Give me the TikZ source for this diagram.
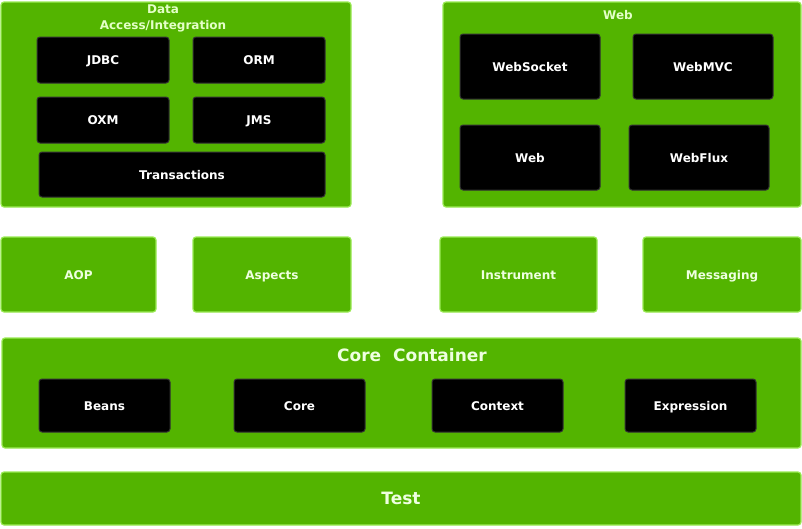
\documentclass[tikz,border=0pt]{standalone}
\usepackage{fontspec}
\setmainfont{DejaVu Sans}
\begin{document}
\definecolor{gfill}{HTML}{53B400}
\definecolor{gline}{HTML}{9BEA55}
\definecolor{gtext}{HTML}{EEFFE0}
\definecolor{ttext}{HTML}{E4FFC8}
\definecolor{bline}{HTML}{333333}
\begin{tikzpicture}[x=1pt,y=-1pt,
  gbox/.style={draw=gline,line width=1.2pt,fill=gfill,rounded corners=3pt},
  kbox/.style={draw=bline,line width=1pt,fill=black,rounded corners=3pt},
  fixh/.style={text height=0.73em,text depth=0pt,inner sep=0pt},
  lbl/.style={fixh,yshift=-1pt,text=white,font=\bfseries\fontsize{12}{14}\selectfont},
  glbl/.style={fixh,yshift=-1pt,text=gtext,font=\bfseries\fontsize{12}{14}\selectfont},
  ttl/.style={text=ttext,font=\bfseries\fontsize{12}{16}\selectfont,align=center,inner sep=0pt},
  big/.style={fixh,yshift=-2.5pt,text=gtext,font=\bfseries\fontsize{17}{20}\selectfont}]
\useasboundingbox[fill=white] (0,0) rectangle (802,528);
% Data Access/Integration
\draw[gbox] (1,2) rectangle (351,207);
\node[ttl] (dtitle) at (163,18) {Data\\Access/Integration};
\draw[kbox] (37,37) rectangle node[lbl] (jdbc) {JDBC} (169,83);
\draw[kbox] (193,37) rectangle node[lbl] (orm) {ORM} (325,83);
\draw[kbox] (37,97) rectangle node[lbl] (oxm) {OXM} (169,143);
\draw[kbox] (193,97) rectangle node[lbl] (jms) {JMS} (325,143);
\draw[kbox] (39,152) rectangle node[lbl] (tx) {Transactions} (325,197);
% Web
\draw[gbox] (443,2) rectangle (801,207);
\node[ttl,fixh] (wtitle) at (618,16) {Web};
\draw[kbox] (460,34) rectangle node[lbl] (ws) {WebSocket} (600,99);
\draw[kbox] (633,34) rectangle node[lbl] (wmvc) {WebMVC} (773,99);
\draw[kbox] (460,125) rectangle node[lbl] (web) {Web} (600,190);
\draw[kbox] (629,125) rectangle node[lbl] (wflux) {WebFlux} (769,190);
% middle row
\draw[gbox] (1,237) rectangle node[glbl] (aop) {AOP} (156,312);
\draw[gbox] (193,237) rectangle node[glbl] (asp) {Aspects} (351,312);
\draw[gbox] (440,237) rectangle node[glbl] (ins) {Instrument} (597,312);
\draw[gbox] (643,237) rectangle node[glbl] (msg) {Messaging} (801,312);
% Core Container
\draw[gbox] (2,338) rectangle (801,448);
\node[big] (ctitle) at (412,355) {Core\ \ Container};
\draw[kbox] (39,379) rectangle node[lbl] (beans) {Beans} (170,432);
\draw[kbox] (234,379) rectangle node[lbl] (core) {Core} (365,432);
\draw[kbox] (432,379) rectangle node[lbl] (ctx) {Context} (563,432);
\draw[kbox] (625,379) rectangle node[lbl] (expr) {Expression} (756,432);
% Test
\draw[gbox] (1,472) rectangle node[big] (test) {Test} (801,525);
\end{tikzpicture}
\end{document}
